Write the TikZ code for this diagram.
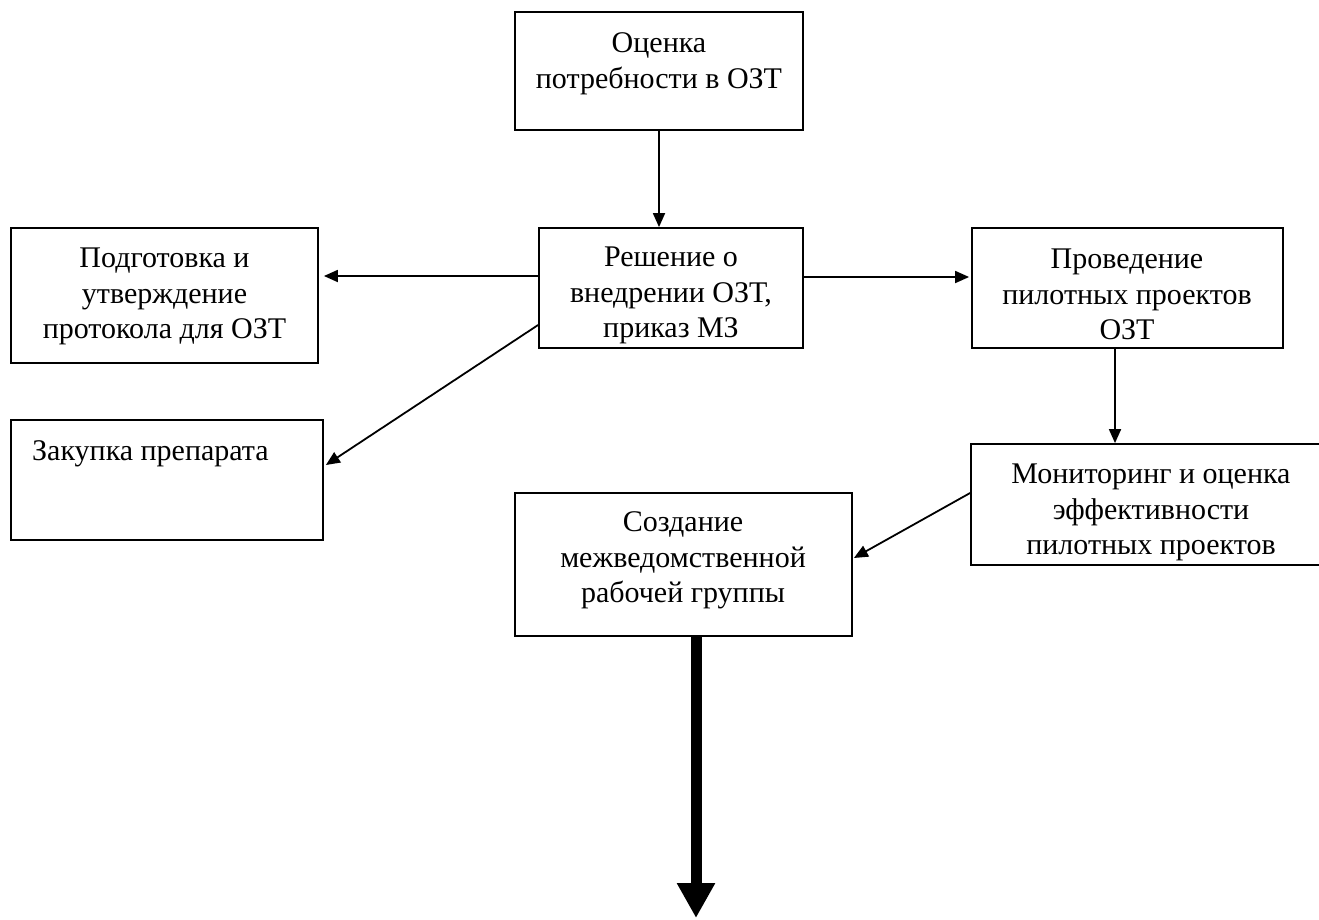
\documentclass[tikz,border=0pt]{standalone}
\usepackage{fontspec}
\setmainfont{Liberation Serif}
\usetikzlibrary{arrows.meta}
\tikzset{
  box/.style={draw, line width=1.8pt, rectangle, inner sep=0pt},
  txt/.style={inner sep=0pt, anchor=north, align=center, font=\fontsize{30}{35.5}\selectfont},
  txtl/.style={inner sep=0pt, anchor=north west, align=left, font=\fontsize{30}{35.5}\selectfont},
  arr/.style={line width=1.8pt, -{Triangle[length=14pt,width=12pt]}},
  bigarr/.style={line width=11pt, -{Triangle[length=35pt,width=36pt]}}
}
\begin{document}
\begin{tikzpicture}[x=1pt,y=-1pt]
\clip (0,0) rectangle (1319,919);
\useasboundingbox (0,0) rectangle (1319,919);
% boxes
\node[box, minimum width=288pt, minimum height=118pt] (ocenka) at (659,71) {};
\node[box, minimum width=264pt, minimum height=120pt] (resh) at (671,288) {};
\node[box, minimum width=307pt, minimum height=135pt] (podg) at (164.5,295.5) {};
\node[box, minimum width=311pt, minimum height=120pt] (prov) at (1127.5,288) {};
\node[box, minimum width=312pt, minimum height=120pt] (zak) at (167,480) {};
\node[box, minimum width=360pt, minimum height=121pt] (mon) at (1151,504.5) {};
\node[box, minimum width=337pt, minimum height=143pt] (sozd) at (683.5,564.5) {};
% texts
\node[txt] (t-ocenka) at (659,27.5) {\strut Оценка\\\strut потребности в ОЗТ};
\node[txt] (t-resh) at (671,241.5) {\strut Решение о\\\strut внедрении ОЗТ,\\\strut приказ МЗ};
\node[txt] (t-podg) at (164.5,242.5) {\strut Подготовка и\\\strut утверждение\\\strut протокола для ОЗТ};
\node[txt] (t-prov) at (1127,243.5) {\strut Проведение\\\strut пилотных проектов\\\strut ОЗТ};
\node[txtl] (t-zak) at (32,435.5) {\strut Закупка препарата};
\node[txt] (t-mon) at (1151,458.5) {\strut Мониторинг и оценка\\\strut эффективности\\\strut пилотных проектов};
\node[txt] (t-sozd) at (683,506.5) {\strut Создание\\\strut межведомственной\\\strut рабочей группы};
% connectors
\draw[arr] (ocenka.south) -- (ocenka.south |- resh.north);
\draw[arr] ([yshift=12pt]resh.west) -- ([xshift=5pt,yshift=19.5pt]podg.east);
\draw[arr] ([yshift=11pt]resh.east) -- ([xshift=-2pt,yshift=11pt]prov.west);
\draw[arr] ([yshift=-37pt]resh.west) -- ([xshift=2pt,yshift=15pt]zak.east);
\draw[arr] ([xshift=-12.5pt]prov.south) -- ([xshift=-12.5pt]prov.south |- mon.north);
\draw[arr] ([yshift=11.5pt]mon.west) -- ([xshift=1pt,yshift=6.5pt]sozd.east);
\coordinate (bottomend) at (696,918);
\draw[bigarr] ([xshift=12.5pt]sozd.south) -- (bottomend);
\end{tikzpicture}
\end{document}
